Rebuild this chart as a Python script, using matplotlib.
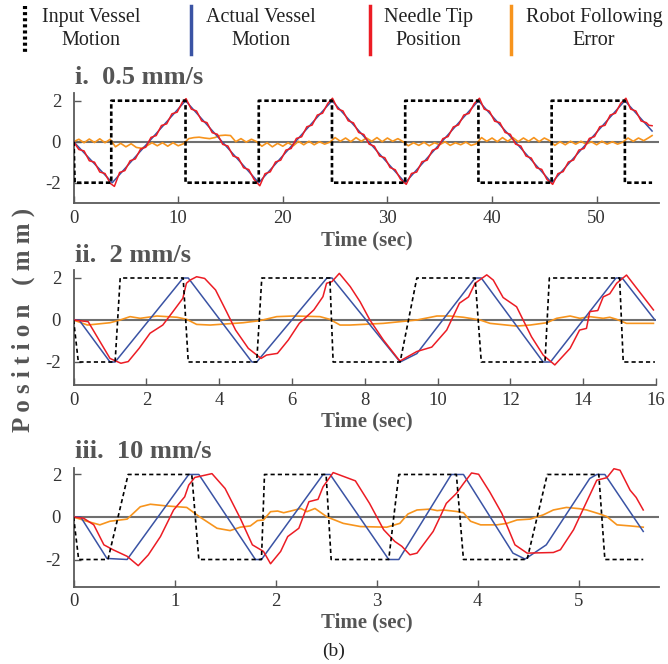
import numpy as np
import matplotlib
matplotlib.use('Agg')
import matplotlib.pyplot as plt
from matplotlib.lines import Line2D

plt.rcParams['font.family'] = ['Liberation Serif', 'DejaVu Serif']
plt.rcParams['axes.unicode_minus'] = False
plt.rcParams['lines.scale_dashes'] = False

# ---------------- data ----------------
# i. 0.5 mm/s
in1_t = [0, 0.1, 3.6, 3.6, 10.7, 10.7, 17.7, 17.7, 24.7, 24.7, 31.7, 31.7,
         38.7, 38.7, 45.7, 45.7, 52.7, 52.7, 55.3]
in1_v = [0, -2, -2, 2, 2, -2, -2, 2, 2, -2, -2, 2, 2, -2, -2, 2, 2, -2, -2]
ves1_t = [0, 3.7, 10.7, 17.7, 24.7, 31.7, 38.7, 45.7, 52.7, 55.3]
ves1_v = [0, -2, 2, -2, 2, -2, 2, -2, 2, 0.52]
tip1_t = [0, 0.5, 1.0, 1.5, 2.0, 2.5, 3.0, 3.5, 3.9,
          4.4, 4.9, 5.4, 5.9, 6.4, 6.9, 7.4, 7.9, 8.4, 8.9, 9.4, 9.9, 10.4, 10.75,
          11.25, 11.75, 12.25, 12.75, 13.25, 13.75, 14.25, 14.75, 15.25, 15.75, 16.25, 16.75, 17.25, 17.8,
          18.3, 18.8, 19.3, 19.8, 20.3, 20.8, 21.3, 21.8, 22.3, 22.8, 23.3, 23.8, 24.3, 24.75,
          25.25, 25.75, 26.25, 26.75, 27.25, 27.75, 28.25, 28.75, 29.25, 29.75, 30.25, 30.75, 31.25, 31.8,
          32.3, 32.8, 33.3, 33.8, 34.3, 34.8, 35.3, 35.8, 36.3, 36.8, 37.3, 37.8, 38.3, 38.8,
          39.25, 39.75, 40.25, 40.75, 41.25, 41.75, 42.25, 42.75, 43.25, 43.75, 44.25, 44.75, 45.25, 45.8,
          46.3, 46.8, 47.3, 47.8, 48.3, 48.8, 49.3, 49.8, 50.3, 50.8, 51.3, 51.8, 52.3, 52.8,
          53.25, 53.75, 54.25, 54.75, 55.0, 55.3]
tip1_v = [0, -0.38, -0.45, -0.93, -1.0, -1.48, -1.55, -2.03, -2.18,
          -1.5, -1.41, -0.93, -0.84, -0.36, -0.27, 0.21, 0.3, 0.79, 0.87, 1.36, 1.44, 1.93, 2.1,
          1.59, 1.5, 1.01, 0.93, 0.44, 0.36, -0.13, -0.21, -0.7, -0.79, -1.27, -1.36, -1.84, -2.15,
          -1.56, -1.47, -0.99, -0.9, -0.41, -0.33, 0.16, 0.24, 0.73, 0.81, 1.3, 1.39, 1.87, 2.12,
          1.6, 1.5, 1.02, 0.92, 0.45, 0.35, -0.12, -0.22, -0.7, -0.78, -1.26, -1.37, -1.83, -2.08,
          -1.55, -1.48, -0.98, -0.9, -0.42, -0.32, 0.15, 0.25, 0.72, 0.82, 1.3, 1.38, 1.86, 2.12,
          1.59, 1.49, 1.0, 0.93, 0.45, 0.36, -0.12, -0.21, -0.7, -0.8, -1.27, -1.35, -1.84, -2.08,
          -1.56, -1.46, -0.99, -0.89, -0.41, -0.33, 0.16, 0.25, 0.73, 0.8, 1.3, 1.39, 1.87, 2.12,
          1.59, 1.5, 1.01, 0.93, 0.8, 0.78]
err1_t = list(np.arange(0, 55.01, 0.5)) + [55.3]
err1_v = [0, 0.12, -0.05, 0.13, -0.04, 0.14, -0.05, 0.12,
          -0.25, -0.08, -0.25, -0.1, -0.28,
          -0.32, -0.2,
          -0.05, -0.2, -0.05, -0.22, -0.05, -0.2, -0.1,
          0.15, 0.2, 0.22, 0.18, 0.15, 0.2,
          0.3, 0.32, 0.3,
          0.0, 0.15, -0.02, 0.12, 0.0,
          -0.22, -0.05, -0.25, -0.08, -0.22, -0.05, -0.2,
          0.02, -0.15, 0.02, -0.15, 0.0, -0.12, -0.02,
          0.2, 0.02, 0.18, 0.0, 0.2, 0.02, 0.18, 0.02, 0.2, 0.0, 0.18, 0.02, 0.15, 0.0,
          -0.2, -0.05, -0.18, -0.03, -0.2, -0.05, -0.15, 0.0, -0.18, -0.05, -0.15, -0.02, -0.18, -0.1,
          0.2, 0.02, 0.18, 0.0, 0.2, 0.02, 0.2, 0.0, 0.18, 0.02, 0.2, 0.0, 0.18, 0.05,
          -0.18, 0.0, -0.15, 0.02, -0.12, 0.02, -0.12, 0.0, -0.15, 0.02, -0.12, 0.0, -0.12, -0.02,
          0.18, 0.02, 0.18, 0.05, 0.2,
          0.3]

# ii. 2 mm/s
in2_t = [0, 0.13, 1.14, 1.28, 3.01, 3.15, 5.03, 5.17, 7.04, 7.13, 8.97, 9.43,
         11.03, 11.2, 12.95, 13.07, 15.0, 15.1, 15.97]
in2_v = [0, -2, -2, 2, 2, -2, -2, 2, 2, -2, -2, 2, 2, -2, -2, 2, 2, -2, -2]
ves2_t = [0, 0.15, 1.0, 1.14, 3.01, 3.15, 4.9, 5.03, 6.96, 7.1, 8.97, 9.43,
          11.03, 11.2, 12.9, 13.1, 14.9, 15.07, 15.97]
ves2_v = [0, 0, -2, -2, 2, 2, -2, -2, 2, 2, -2, -1.6, 2, 2, -2, -2, 2, 2, 0]
tip2_t = [0, 0.4, 1.0, 1.3, 1.5, 1.8, 2.1, 2.45, 2.73, 3.0, 3.1, 3.2, 3.38, 3.6,
          3.9, 4.2, 4.45, 4.8, 5.15, 5.3, 5.6, 5.9, 6.2, 6.6, 6.85, 6.95, 7.1, 7.3,
          7.6, 7.87, 8.14, 8.51, 8.92, 8.97, 9.43, 9.84, 10.25, 10.6, 10.85, 11.03,
          11.35, 11.53, 11.8, 12.17, 12.35, 12.58, 12.9, 13.22, 13.64, 13.9, 14.09,
          14.18, 14.4, 14.55, 14.73, 14.92, 15.19, 15.93]
tip2_v = [0, -0.08, -1.83, -2.06, -1.98, -1.35, -0.63, -0.24, 0.4, 1.03, 1.75, 1.9, 2.06, 1.98,
          1.43, 0.4, -0.48, -1.35, -1.83, -1.67, -1.59, -0.95, -0.16, 0.48, 1.11, 1.75, 1.83, 2.22,
          1.59, 0.87, 0.0, -0.95, -1.86, -1.95, -1.5, -1.29, -0.48, 0.8, 1.1, 1.75,
          2.15, 1.9, 1.07, 0.63, 0.0, -0.8, -1.67, -2.14, -1.35, -0.48, -0.4,
          0.4, 0.45, 1.1, 1.25, 1.75, 2.14, 0.48]
err2_t = [0, 0.38, 1.0, 1.28, 1.55, 1.83, 2.29, 2.84, 3.11, 3.38, 3.75, 4.66, 5.12,
          5.58, 6.04, 6.77, 7.04, 7.32, 7.59, 8.51, 9.43, 9.98, 10.34, 10.71, 11.17,
          11.44, 12.17, 12.54, 13.0, 13.27, 13.64, 13.91, 14.18, 14.55, 14.73, 14.92,
          15.19, 15.93]
err2_v = [0, -0.24, -0.13, 0, 0.16, 0.08, 0.19, 0.13, 0.03, -0.21, -0.24, -0.13, -0.03,
          0.16, 0.19, 0.16, 0.03, -0.24, -0.24, -0.16, 0, 0.19, 0.19, 0.13, 0,
          -0.16, -0.29, -0.24, -0.13, 0.08, 0.19, 0.08, 0.16, 0.08, 0.13, 0.03,
          -0.16, -0.16]

# iii. 10 mm/s
in3_t = [0, 0.05, 0.34, 0.54, 1.17, 1.24, 1.86, 1.89, 2.5, 2.55, 3.12, 3.22,
         3.79, 3.86, 4.49, 4.69, 5.2, 5.26, 5.64]
in3_v = [0, -2, -2, 2, 2, -2, -2, 2, 2, -2, -2, 2, 2, -2, -2, 2, 2, -2, -2]
ves3_t = [0, 0.07, 0.33, 0.53, 1.14, 1.24, 1.8, 1.86, 2.47, 2.54, 3.12, 3.22,
          3.74, 3.86, 4.35, 4.47, 4.68, 5.11, 5.18, 5.26, 5.64]
ves3_v = [0, 0, -1.95, -2, 2, 2, -2, -2, 2, 2, -2, -2,
          2, 2, -1.7, -1.98, -1.31, 1.81, 2, 2, -0.68]
tip3_t = [0, 0.1, 0.2, 0.3, 0.39, 0.53, 0.64, 0.74, 0.86, 0.99, 1.1, 1.14, 1.2, 1.37,
          1.5, 1.65, 1.77, 1.88, 1.95, 2.05, 2.12, 2.23, 2.33, 2.42, 2.47, 2.57, 2.79,
          2.93, 3.07, 3.18, 3.25, 3.33, 3.4, 3.56, 3.63, 3.69, 3.79, 3.86, 3.94, 4.01,
          4.12, 4.24, 4.37, 4.49, 4.75, 4.82, 4.95, 5.08, 5.18, 5.28, 5.35, 5.41, 5.51,
          5.57, 5.64]
tip3_v = [0, -0.06, -0.37, -1.31, -1.54, -1.85, -2.29, -1.78, -0.92, 0.33, 0.95, 1.5, 1.86, 2.04,
          1.34, -0.06, -1.31, -1.62, -2.2, -1.62, -0.92, -0.53, 0.72, 0.83, 1.42, 2.09, 1.7,
          0.64, -0.6, -1.15, -1.38, -1.78, -1.7, -0.68, 0.02, 0.64, 1.11, 1.57, 2.07, 2.01,
          1.18, 0.17, -1.31, -1.7, -1.67, -1.54, -0.6, 0.72, 1.73, 1.85, 2.27, 2.2, 1.26,
          0.92, 0.33]
err3_t = [0, 0.13, 0.26, 0.36, 0.53, 0.66, 0.76, 0.92, 1.12, 1.25, 1.42, 1.55, 1.65,
          1.75, 1.82, 1.88, 1.95, 2.02, 2.08, 2.15, 2.25, 2.31, 2.39, 2.51, 2.67, 2.84,
          3.1, 3.23, 3.31, 3.4, 3.53, 3.6, 3.66, 3.79, 3.86, 3.93, 4.03, 4.19, 4.29,
          4.39, 4.52, 4.65, 4.75, 4.88, 5.01, 5.08, 5.21, 5.28, 5.38, 5.51, 5.64]
err3_v = [0, -0.2, -0.37, -0.2, -0.1, 0.48, 0.6, 0.52, 0.45, 0, -0.53, -0.64, -0.48,
          -0.42, -0.17, -0.14, 0.25, 0.28, 0.2, 0.28, 0.4, 0.25, 0.4, 0, -0.3, -0.45,
          -0.48, -0.3, 0.14, 0.33, 0.37, 0.3, 0.33, 0.26, 0.2, -0.2, -0.37, -0.37, -0.3,
          -0.14, -0.1, 0.1, 0.33, 0.45, 0.39, 0.33, 0.14, 0.02, -0.37, -0.42, -0.48]

titles = ['i.  0.5 mm/s', 'ii.  2 mm/s', 'iii.  10 mm/s']
legend_labels = ['Input Vessel\nMotion', 'Actual Vessel\nMotion',
                 'Needle Tip\nPosition', 'Robot Following\nError']

# ---------------- styling ----------------
C_BLUE, C_RED, C_ORANGE = '#3a53a4', '#ec1c24', '#f7941d'
C_TXT, C_AX = '#555555', '#5a5a5a'
W, H = 668, 664


def box(l, t, r, b):
    return [l / W, 1 - b / H, (r - l) / W, (b - t) / H]


fig = plt.figure(figsize=(W / 100, H / 100), dpi=100)

panels = [
    dict(rect=box(73.6, 92.5, 659.4, 203.2), xlim=(0, 56), ylim=(-3, 2.4),
         xt=np.arange(0, 51, 10), data=(in1_t, in1_v, ves1_t, ves1_v, tip1_t, tip1_v, err1_t, err1_v),
         dash_lw=1.9, dash=(3.2, 2.0), title_y=77, xlab_y=240),
    dict(rect=box(73.6, 269.6, 656, 385.1), xlim=(0, 16), ylim=(-3.1, 2.4),
         xt=np.arange(0, 17, 2), data=(in2_t, in2_v, ves2_t, ves2_v, tip2_t, tip2_v, err2_t, err2_v),
         dash_lw=1.2, dash=(3.0, 2.2), title_y=256, xlab_y=421),
    dict(rect=box(73.6, 468.1, 659.4, 586.5), xlim=(0, 5.8), ylim=(-3.27, 2.3),
         xt=np.arange(0, 6, 1), data=(in3_t, in3_v, ves3_t, ves3_v, tip3_t, tip3_v, err3_t, err3_v),
         dash_lw=1.2, dash=(3.0, 2.2), title_y=451, xlab_y=622),
]

for p, title in zip(panels, titles):
    ax = fig.add_axes(p['rect'])
    it, iv, vt, vv, tt, tv, et, ev = p['data']
    ax.axhline(0, color='#6f6f6f', lw=1.5, zorder=1)
    ax.plot(et, ev, color=C_ORANGE, lw=1.2, zorder=2)
    ax.plot(vt, vv, color=C_BLUE, lw=1.1, zorder=3)
    ax.plot(tt, tv, color=C_RED, lw=1.1, zorder=4)
    ax.plot(it, iv, color='black', lw=p['dash_lw'], dashes=p['dash'], zorder=5)
    ax.set_xlim(*p['xlim'])
    ax.set_ylim(*p['ylim'])
    ax.set_xticks(p['xt'])
    ax.set_yticks([-2, 0, 2])
    for s in ['top', 'right']:
        ax.spines[s].set_visible(False)
    for s in ['left', 'bottom']:
        ax.spines[s].set_color(C_AX)
        ax.spines[s].set_linewidth(1.3)
    ax.tick_params(direction='in', length=5, width=1, color=C_AX,
                   labelsize=13.5, labelcolor='#333333')
    ax.tick_params(axis='x', pad=5)
    ax.tick_params(axis='y', pad=9)
    fig.text(75 / W, 1 - p['title_y'] / H, title, fontsize=19, fontweight='bold',
             color=C_TXT, ha='left', va='center')
    fig.text((73.6 + 659.4) / 2 / W, 1 - p['xlab_y'] / H, 'Time (sec)', fontsize=15,
             fontweight='bold', color=C_TXT, ha='center', va='center')

# y label
fig.text(23 / W, 1 - 320 / H, 'P o s i t i o n   ( m m )', rotation=90, fontsize=18,
         fontweight='bold', color=C_TXT, ha='center', va='center')

# legend along the top
leg_x = [24.7, 190.6, 370, 510.6]
leg_tx = [91, 261, 428, 594]
leg_style = [dict(color='black', lw=3, dashes=(2.2, 2.2)),
             dict(color=C_BLUE, lw=2.5), dict(color=C_RED, lw=2.5),
             dict(color=C_ORANGE, lw=2.5)]
for x, tx, lab, st in zip(leg_x, leg_tx, legend_labels, leg_style):
    fig.add_artist(Line2D([x / W, x / W], [1 - 6 / H, 1 - 54 / H], **st))
    fig.text(tx / W, 1 - 29 / H, lab, fontsize=14.5, color='#222222', ha='center',
             va='center', linespacing=1.35)

fig.text(334 / W, 1 - 651 / H, '(b)', fontsize=14, color='#222222', ha='center', va='center')

fig.savefig('out.png', dpi=100)
